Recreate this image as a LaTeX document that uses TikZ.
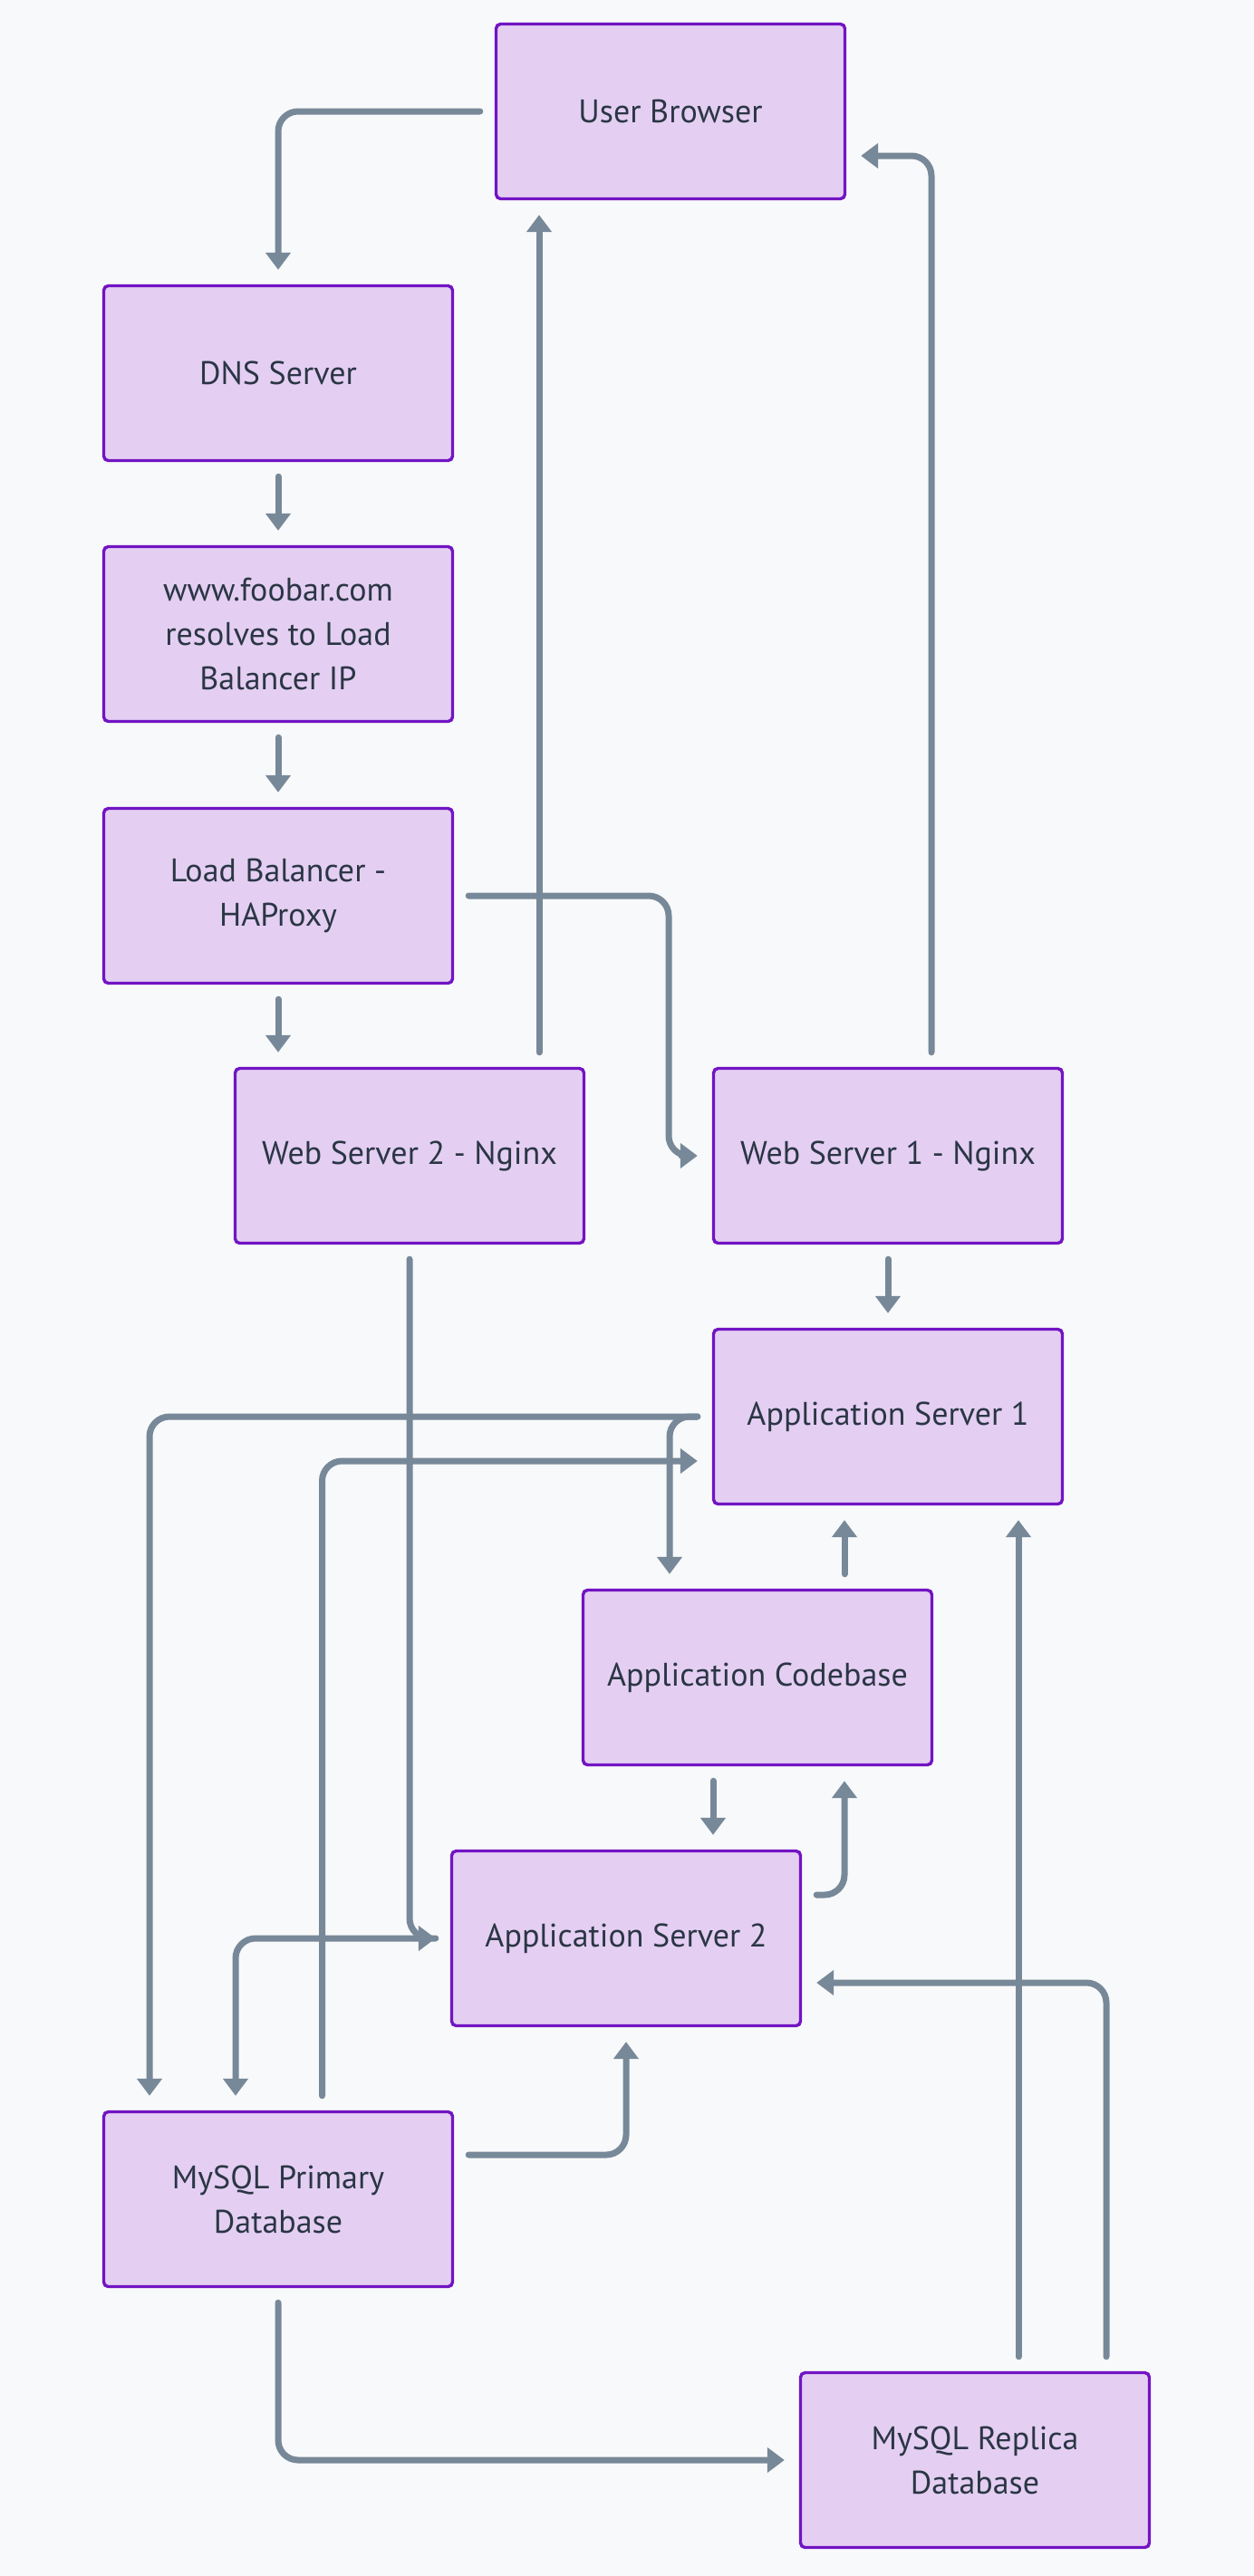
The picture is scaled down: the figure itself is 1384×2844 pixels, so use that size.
\documentclass[tikz,border=0pt]{standalone}
\usepackage{fontspec}
\setmainfont{PT Sans}
\usetikzlibrary{arrows.meta}
\definecolor{bgc}{HTML}{F8F9FA}
\definecolor{boxfill}{HTML}{E4CFF3}
\definecolor{boxline}{HTML}{7214C3}
\definecolor{edgec}{HTML}{778899}
\definecolor{textc}{HTML}{2B3645}
\tikzset{
  box/.style={draw=boxline, fill=boxfill, line width=1.7pt, rounded corners=2.5pt,
    minimum width=192.5pt, minimum height=96.5pt, inner sep=0pt, align=center,
    text=textc, font=\fontsize{18}{24.5}\selectfont},
  conn/.style={draw=edgec, line width=3.5pt, line cap=round, rounded corners=11pt,
    shorten <=8pt, shorten >=8pt, -{Triangle[length=9.5pt,width=13.5pt]}}
}
\begin{document}
\begin{tikzpicture}[x=0.5pt,y=-0.5pt]
\fill[bgc] (0,0) rectangle (1384,2844);
\useasboundingbox (0,0) rectangle (1384,2844);
\node[box] (UB)  at (740,123)  {User Browser};
\node[box] (DNS) at (307,412)  {DNS Server};
\node[box] (www) at (307,700)  {www.foobar.com\\resolves to Load\\Balancer IP};
\node[box] (LB)  at (307,989)  {Load Balancer -\\HAProxy};
\node[box] (WS2) at (452,1276) {Web Server 2 - Nginx};
\node[box] (WS1) at (980,1276) {Web Server 1 - Nginx};
\node[box] (AS1) at (980,1564) {Application Server 1};
\node[box] (CB)  at (836,1852) {Application Codebase};
\node[box] (AS2) at (691,2140) {Application Server 2};
\node[box] (MP)  at (307,2428) {MySQL Primary\\Database};
\node[box] (MR)  at (1076,2716) {MySQL Replica\\Database};
\coordinate (ce) at (738,0);
\coordinate (cf) at (595,0);
\coordinate (cg) at (1028,0);
\coordinate (cj) at (165,0);
\coordinate (ck) at (355.5,0);
\coordinate (cl) at (739,0);
\coordinate (cm) at (932,0);
\coordinate (cn) at (787,0);
\coordinate (cp) at (260,0);
\coordinate (cs) at (1124,0);
\coordinate (ct) at (1221,0);
% connectors
\draw[conn] (UB.west) -| (DNS.north);
\draw[conn] (DNS) -- (www);
\draw[conn] (www) -- (LB);
\draw[conn] (LB.south) -- (LB.south |- WS2.north);
\draw[conn] (LB.east) -| (ce |- WS1.west) -- (WS1.west);
\draw[conn] (cf |- WS2.north) -- (cf |- UB.south);
\draw[conn] (cg |- WS1.north) |- ([yshift=-24.5pt]UB.east);
\draw[conn] (WS1) -- (AS1);
\draw[conn] (WS2.south) |- (AS2.west);
\draw[conn] (AS1.west) -| (cj |- MP.north);
\draw[conn] (ck |- MP.north) |- ([yshift=-24.5pt]AS1.west);
\draw[conn] (AS1.west) -| (cl |- CB.north);
\draw[conn] (cm |- CB.north) -- (cm |- AS1.south);
\draw[conn] (cn |- CB.south) -- (cn |- AS2.north);
\draw[conn] ([yshift=24pt]AS2.east) -| (cm |- CB.south);
\draw[conn] (AS2.west) -| (cp |- MP.north);
\draw[conn] ([yshift=24.5pt]MP.east) -| (AS2.south);
\draw[conn] (MP.south) |- (MR.west);
\draw[conn] (cs |- MR.north) -- (cs |- AS1.south);
\draw[conn] (ct |- MR.north) |- ([yshift=-24.5pt]AS2.east);
\end{tikzpicture}
\end{document}
